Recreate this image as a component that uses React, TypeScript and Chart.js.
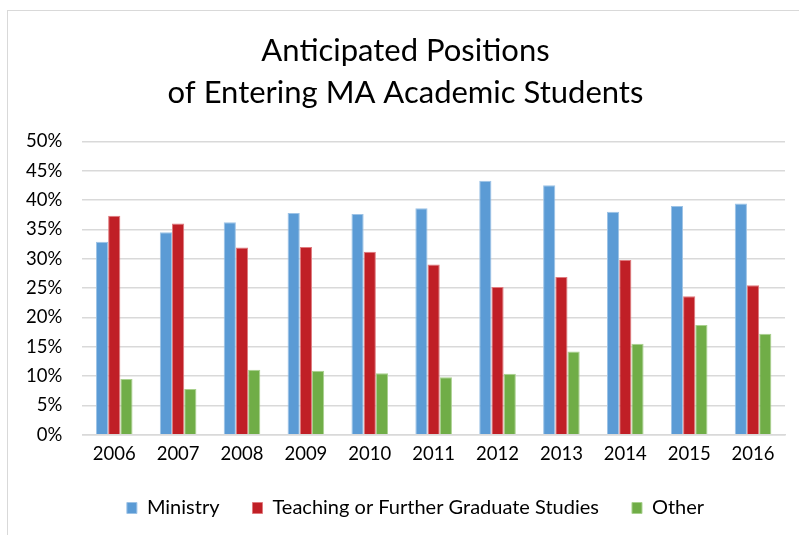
import React, { useEffect, useRef } from "react";
import { Chart, registerables } from "chart.js";

Chart.register(...registerables);

const years = ["2006", "2007", "2008", "2009", "2010", "2011", "2012", "2013", "2014", "2015", "2016"];
const ministry = [32.9, 34.5, 36.2, 37.8, 37.6, 38.6, 43.3, 42.5, 38.0, 39.0, 39.4];
const teaching = [37.3, 36.0, 31.9, 32.0, 31.2, 29.0, 25.2, 26.9, 29.8, 23.6, 25.5];
const other = [9.5, 7.8, 11.1, 10.9, 10.5, 9.8, 10.4, 14.2, 15.5, 18.7, 17.2];
const yTicks = [0, 5, 10, 15, 20, 25, 30, 35, 40, 45, 50];
const titleLines = ["Anticipated Positions", "of Entering MA Academic Students"];
const FONT = "Lato, 'Open Sans', sans-serif";

const blockShift = {
  id: "blockShift",
  afterLayout(chart: any) {
    if (chart.legend) {
      chart.legend.left += 20;
      chart.legend.right += 20;
    }
    if (chart.titleBlock) {
      chart.titleBlock.left += 10;
      chart.titleBlock.right += 10;
    }
  },
};

export default function App() {
  const ref = useRef<HTMLCanvasElement | null>(null);
  useEffect(() => {
    if (!ref.current) return;
    const chart = new Chart(ref.current, {
      type: "bar",
      data: {
        labels: years,
        datasets: [
          { label: "Ministry", data: ministry, backgroundColor: "#5B9BD5", borderColor: "#9DC3E6", borderWidth: 1 },
          { label: "Teaching or Further Graduate Studies", data: teaching, backgroundColor: "#C01F26", borderColor: "#E07A7E", borderWidth: 1 },
          { label: "Other", data: other, backgroundColor: "#70AD47", borderColor: "#A9D18E", borderWidth: 1 },
        ],
      },
      plugins: [blockShift],
      options: {
        animation: false,
        responsive: false,
        maintainAspectRatio: false,
        layout: { padding: { left: 6, right: 14, top: 30, bottom: 7 } },
        datasets: { bar: { categoryPercentage: 0.573, barPercentage: 1 } },
        plugins: {
          title: {
            display: true,
            text: titleLines,
            color: "#000",
            font: { family: FONT, size: 31, weight: "normal", lineHeight: 1.36 },
            padding: { top: 0, bottom: 27 },
          },
          legend: {
            position: "bottom",
            labels: {
              boxWidth: 10,
              boxHeight: 11,
              padding: 33,
              color: "#000",
              font: { family: FONT, size: 20 },
            },
          },
          tooltip: { enabled: false },
        },
        scales: {
          x: {
            grid: { display: false },
            border: { color: "#d9d9d9", width: 1.5 },
            ticks: { color: "#000", font: { family: FONT, size: 18.5 }, padding: 0 },
          },
          y: {
            min: 0,
            max: 50,
            afterBuildTicks: (axis: any) => {
              axis.ticks = yTicks.map((v) => ({ value: v }));
            },
            grid: { color: "#d9d9d9", lineWidth: 1.5, drawTicks: false },
            border: { display: false },
            ticks: {
              color: "#000",
              font: { family: FONT, size: 18.5 },
              padding: 20,
              callback: (v: any) => v + "%",
            },
          },
        },
      },
    });
    return () => chart.destroy();
  }, []);
  return (
    <div style={{ position: "fixed", left: 0, top: 0, width: 799, height: 535, background: "#fff" }}>
      <div style={{ position: "absolute", left: 7, top: 10, width: 800, height: 530, border: "1px solid #d9d9d9", boxSizing: "border-box" }} />
      <canvas ref={ref} width={799} height={535} style={{ position: "absolute", left: 0, top: 0 }} />
    </div>
  );
}
